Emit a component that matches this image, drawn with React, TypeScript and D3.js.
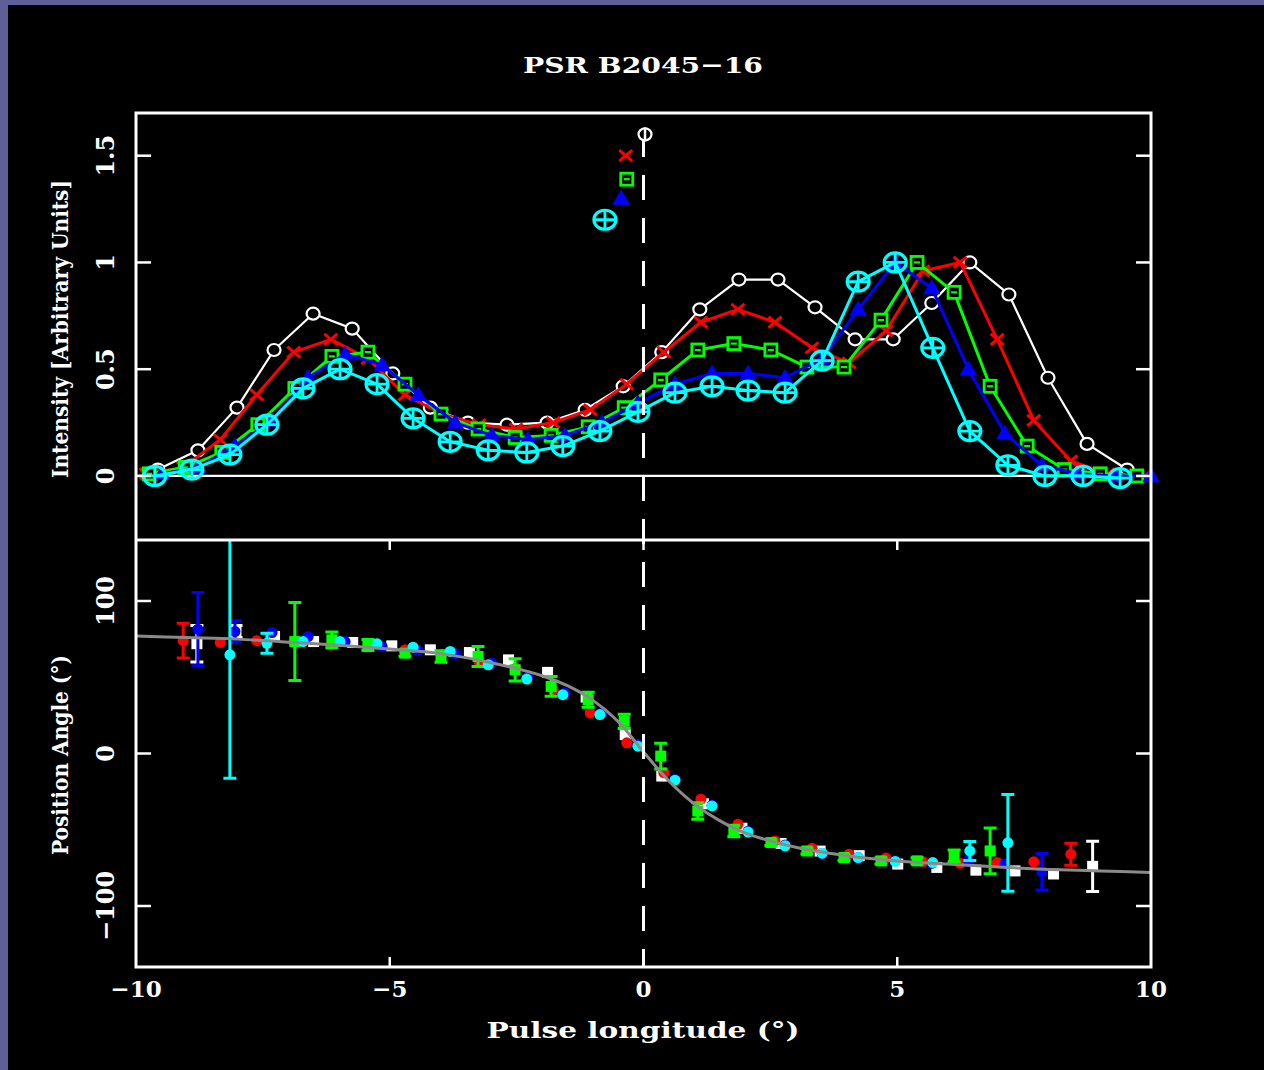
import React from "react";
import * as d3 from "d3";

const W = 1264;
const H = 1070;

// ---- Upper panel: normalised pulse profiles, one per frequency channel ----
const whiteLon = [-9.57, -8.78, -8.01, -7.28, -6.51, -5.74, -4.94, -4.2, -3.46, -2.69, -1.9, -1.15, -0.4, 0.36, 1.11, 1.88, 2.65, 3.38, 4.17, 4.92, 5.68, 6.43, 7.2, 7.97, 8.74, 9.53];
const whiteInt = [0.03, 0.12, 0.32, 0.59, 0.76, 0.69, 0.48, 0.32, 0.25, 0.24, 0.25, 0.31, 0.42, 0.58, 0.78, 0.92, 0.92, 0.79, 0.64, 0.64, 0.81, 1.0, 0.85, 0.46, 0.15, 0.03];

const redLon = [-9.8, -9.07, -8.34, -7.62, -6.89, -6.16, -5.43, -4.7, -3.97, -3.24, -2.51, -1.78, -1.05, -0.33, 0.4, 1.13, 1.86, 2.59, 3.32, 4.05, 4.78, 5.51, 6.24, 6.97, 7.69, 8.42, 9.15, 9.88];
const redInt = [0.01, 0.04, 0.17, 0.38, 0.58, 0.64, 0.55, 0.38, 0.29, 0.24, 0.22, 0.25, 0.31, 0.43, 0.58, 0.72, 0.78, 0.72, 0.6, 0.53, 0.68, 0.96, 1.0, 0.64, 0.26, 0.07, 0.01, 0.0];

const greenLon = [-9.74, -9.03, -8.31, -7.6, -6.87, -6.14, -5.43, -4.7, -3.99, -3.26, -2.53, -1.82, -1.09, -0.38, 0.34, 1.07, 1.78, 2.51, 3.22, 3.95, 4.68, 5.39, 6.12, 6.83, 7.56, 8.29, 9.0, 9.72];
const greenInt = [0.01, 0.04, 0.11, 0.24, 0.41, 0.56, 0.58, 0.43, 0.29, 0.22, 0.18, 0.19, 0.23, 0.32, 0.45, 0.59, 0.62, 0.59, 0.51, 0.51, 0.73, 1.0, 0.86, 0.42, 0.14, 0.03, 0.01, 0.0];

const blueLon = [-9.49, -8.78, -8.05, -7.32, -6.61, -5.88, -5.15, -4.44, -3.71, -2.99, -2.28, -1.55, -0.82, -0.11, 0.62, 1.35, 2.06, 2.79, 3.52, 4.23, 4.96, 5.68, 6.4, 7.12, 7.85, 8.56, 9.29, 10.0];
const blueInt = [0.01, 0.04, 0.14, 0.26, 0.46, 0.57, 0.52, 0.38, 0.25, 0.19, 0.17, 0.19, 0.25, 0.34, 0.43, 0.48, 0.48, 0.46, 0.55, 0.78, 1.0, 0.88, 0.5, 0.2, 0.05, 0.01, 0.0, 0.0];

const cyanLon = [-9.63, -8.9, -8.15, -7.42, -6.71, -5.98, -5.25, -4.54, -3.81, -3.06, -2.3, -1.59, -0.86, -0.11, 0.62, 1.35, 2.06, 2.79, 3.52, 4.23, 4.96, 5.7, 6.43, 7.18, 7.91, 8.66, 9.39];
const cyanInt = [0.0, 0.03, 0.1, 0.24, 0.41, 0.5, 0.43, 0.27, 0.16, 0.12, 0.11, 0.14, 0.21, 0.3, 0.39, 0.42, 0.4, 0.39, 0.54, 0.91, 1.0, 0.6, 0.21, 0.05, 0.0, 0.0, -0.01];

// Key symbols stacked beside the fiducial line
const keyLon = [0.03, -0.35, -0.33, -0.44, -0.76];
const keyInt = [1.6, 1.5, 1.39, 1.3, 1.2];

// ---- Lower panel: position angle (deg) with 1-sigma errors ----
const whitePaLon = [-8.8, -8.03, -7.27, -6.5, -5.73, -4.96, -4.2, -3.43, -2.66, -1.89, -1.13, -0.36, 0.36, 1.18, 1.94, 2.71, 3.48, 4.25, 5.01, 5.78, 6.55, 7.32, 8.08, 8.85];
const whitePa = [72, 80, 76.7, 73.4, 72.8, 70.6, 68, 66.2, 61.4, 53.2, 37, 12.4, -14.8, -33, -49, -59, -64, -67, -72.5, -74.7, -76.5, -77, -79, -74];
const whitePaErr = [12, 4, 0, 0, 0, 0, 0, 0, 0, 0, 0, 0, 0, 0, 0, 0, 0, 0, 0, 0, 0, 0, 0, 16.5];

const redPaLon = [-9.07, -8.34, -7.62, -6.89, -6.16, -5.43, -4.7, -3.97, -3.24, -2.51, -1.78, -1.05, -0.33, 0.4, 1.13, 1.86, 2.59, 3.32, 4.05, 4.78, 5.51, 6.24, 6.97, 7.69, 8.42];
const redPa = [74, 72.8, 74, 73, 71, 70, 68, 65, 60.3, 56, 41.8, 26.6, 7, -12.6, -30, -46.4, -57.3, -62.1, -66, -68.6, -71, -72, -71.5, -71, -66];
const redPaErr = [11.4, 0, 0, 0, 0, 0, 0, 0, 0, 0, 0, 0, 0, 0, 0, 0, 0, 0, 0, 0, 0, 0, 0, 0, 7.2];

const greenPaLon = [-6.87, -6.14, -5.43, -4.7, -3.99, -3.26, -2.53, -1.82, -1.09, -0.38, 0.34, 1.07, 1.78, 2.51, 3.22, 3.95, 4.68, 5.39, 6.12, 6.83];
const greenPa = [73.4, 74.5, 71.2, 65.8, 63.6, 63.6, 54.9, 44, 35.3, 21.1, -1.7, -37.7, -50.8, -58.4, -63.9, -68.2, -70.4, -70.4, -67.1, -63.9];
const greenPaErr = [25.6, 5.2, 3.6, 2, 3.8, 6.5, 7.3, 6.5, 4.9, 4.7, 8.4, 5.4, 3.8, 2, 2, 2, 2, 2, 3.9, 15];

const bluePaLon = [-8.78, -8.05, -7.32, -6.61, -5.88, -5.15, -4.44, -3.71, -2.99, -2.28, -1.55, -0.82, -0.11, 0.62, 1.35, 2.06, 2.79, 3.52, 4.23, 4.96, 5.68, 6.4, 7.12, 7.85];
const bluePa = [81.5, 80, 79.3, 76.7, 73.4, 70.1, 67.5, 65.4, 59.3, 50.1, 39.7, 26.6, 5.9, -17, -34, -51, -60, -65.5, -68.2, -70.4, -72, -70.5, -72.5, -77.5];
const bluePaErr = [24, 7, 0, 0, 0, 0, 0, 0, 0, 0, 0, 0, 0, 0, 0, 0, 0, 0, 0, 0, 0, 0, 0, 12];

const cyanPaLon = [-8.15, -7.42, -6.71, -5.98, -5.25, -4.54, -3.81, -3.06, -2.3, -1.59, -0.86, -0.11, 0.62, 1.35, 2.06, 2.79, 3.52, 4.23, 4.96, 5.7, 6.43, 7.18];
const cyanPa = [64.7, 72.3, 73.4, 73.4, 71.9, 69.7, 66.9, 58.2, 48.8, 38.6, 25.5, 4.8, -17.5, -34.4, -51.5, -60.5, -65.4, -68.2, -70.8, -71.5, -63.9, -58.6];
const cyanPaErr = [81, 6.5, 0, 0, 0, 0, 0, 0, 0, 0, 0, 0, 0, 0, 0, 0, 0, 0, 0, 0, 6.2, 31.7];

// Rotating-vector-model fit through the position angles
const fitLon = [-10, -9, -8, -7, -6, -5, -4, -3, -2, -1.5, -1, -0.5, 0, 0.5, 1, 1.5, 2, 3, 4, 5, 6, 7, 8, 9, 10];
const fitPa = [77, 76, 75, 73, 71, 68.5, 65.5, 59.5, 51, 44.5, 35, 21, 1, -18, -33, -44, -52, -61.5, -67, -70.5, -72.5, -74.5, -76, -77, -78];

const intensityTicks = [0, 0.5, 1, 1.5];
const intensityTickLabels = ["0", "0.5", "1", "1.5"];
const paTicks = [100, 0, -100];
const paTickLabels = ["100", "0", "\u2212100"];
const lonTicks = [-10, -5, 0, 5, 10];
const lonTickLabels = ["\u221210", "\u22125", "0", "5", "10"];

type MarkerKind = "circle" | "cross" | "square" | "triangle" | "circlePlus";
type PaKind = "square" | "dot";

interface Series {
  color: string;
  marker: MarkerKind;
  paMarker: PaKind;
  lineWidth: number;
  lon: number[];
  int: number[];
  paLon: number[];
  pa: number[];
  paErr: number[];
}

const series: Series[] = [
  { color: "#ffffff", marker: "circle", paMarker: "square", lineWidth: 2.2, lon: whiteLon, int: whiteInt, paLon: whitePaLon, pa: whitePa, paErr: whitePaErr },
  { color: "#ff0000", marker: "cross", paMarker: "dot", lineWidth: 3, lon: redLon, int: redInt, paLon: redPaLon, pa: redPa, paErr: redPaErr },
  { color: "#00ff00", marker: "square", paMarker: "square", lineWidth: 3, lon: greenLon, int: greenInt, paLon: greenPaLon, pa: greenPa, paErr: greenPaErr },
  { color: "#0000ff", marker: "triangle", paMarker: "dot", lineWidth: 3, lon: blueLon, int: blueInt, paLon: bluePaLon, pa: bluePa, paErr: bluePaErr },
  { color: "#00ffff", marker: "circlePlus", paMarker: "dot", lineWidth: 3, lon: cyanLon, int: cyanInt, paLon: cyanPaLon, pa: cyanPa, paErr: cyanPaErr },
];

// Plot geometry
const left = 136;
const right = 1151;
const top = 113;
const split = 540;
const bottom = 967;

const x = d3.scaleLinear().domain([-10, 10]).range([left, right]);
const yI = d3.scaleLinear().domain([-0.3, 1.7]).range([split, top]);
const yPA = d3.scaleLinear().domain([-140, 140]).range([bottom, split]);

const FONT = "'DejaVu Serif', 'Liberation Serif', serif";

function Marker({ kind, cx, cy, color }: { kind: MarkerKind; cx: number; cy: number; color: string }) {
  const t = `translate(${cx},${cy})`;
  switch (kind) {
    case "circle":
      return (
        <g transform={t}>
          <ellipse rx={6.5} ry={6} fill="#000" stroke={color} strokeWidth={2.2} />
        </g>
      );
    case "cross":
      return (
        <g transform={t}>
          <path d="M-6.5,-5.5L6.5,5.5M-6.5,5.5L6.5,-5.5" stroke={color} strokeWidth={3} fill="none" />
        </g>
      );
    case "square":
      return (
        <g transform={t}>
          <rect x={-6} y={-6} width={12} height={12} fill="#000" stroke={color} strokeWidth={2.8} />
          <path d="M-3,0L3,0" stroke={color} strokeWidth={2.2} />
        </g>
      );
    case "triangle":
      return (
        <g transform={t}>
          <path d="M0,-7.5L7.5,5.5L-7.5,5.5Z" fill={color} stroke={color} strokeWidth={1.5} strokeLinejoin="round" />
        </g>
      );
    case "circlePlus":
      return (
        <g transform={t}>
          <ellipse rx={11} ry={9.5} fill="none" stroke={color} strokeWidth={3.2} />
          <path d="M-11,0L11,0M0,-9.5L0,9.5" stroke={color} strokeWidth={2.8} />
        </g>
      );
  }
}

function PaPoint({ kind, lon, pa, err, color }: { kind: PaKind; lon: number; pa: number; err: number; color: string }) {
  const cx = x(lon);
  const cy = yPA(pa);
  const yHi = yPA(pa + err);
  const yLo = yPA(pa - err);
  return (
    <g>
      {err > 0 && (
        <path
          d={`M${cx},${yHi}L${cx},${yLo}M${cx - 6.5},${yHi}L${cx + 6.5},${yHi}M${cx - 6.5},${yLo}L${cx + 6.5},${yLo}`}
          stroke={color}
          strokeWidth={3}
          fill="none"
        />
      )}
      {kind === "square" ? (
        <rect x={cx - 5.5} y={cy - 5.5} width={11} height={11} fill={color} />
      ) : (
        <circle cx={cx} cy={cy} r={5.5} fill={color} />
      )}
    </g>
  );
}

export default function App() {
  const profileLine = d3
    .line<[number, number]>()
    .x((d) => x(d[0]))
    .y((d) => yI(d[1]));
  const fitLine = d3
    .line<[number, number]>()
    .x((d) => x(d[0]))
    .y((d) => yPA(d[1]))
    .curve(d3.curveCatmullRom.alpha(0.5));

  const fitPts: [number, number][] = fitLon.map((l, i) => [l, fitPa[i]]);

  const labelStyle = { fontFamily: FONT, fontWeight: 700, fill: "#fff" } as const;

  return (
    <svg
      width={W}
      height={H}
      viewBox={`0 0 ${W} ${H}`}
      style={{ position: "absolute", left: 0, top: 0, display: "block" }}
    >
      <defs>
        <clipPath id="lowerClip">
          <rect x={left} y={split} width={right - left} height={bottom - split} />
        </clipPath>
      </defs>
      <rect x={0} y={0} width={W} height={H} fill="#5e5e98" />
      <rect x={8} y={5} width={W - 8} height={H - 5} fill="#000" />

      {/* Title */}
      <text x={643} y={73} textAnchor="middle" fontSize={23} textLength={240} lengthAdjust="spacingAndGlyphs" {...labelStyle}>
        PSR B2045{"\u2212"}16
      </text>

      {/* Upper panel: zero level */}
      <line x1={left} x2={right} y1={yI(0)} y2={yI(0)} stroke="#fff" strokeWidth={2.2} />

      {/* Profiles */}
      {series.map((s, si) => {
        const pts: [number, number][] = s.lon.map((l, i) => [l, s.int[i]]);
        return (
          <g key={`prof-${si}`}>
            <path d={profileLine(pts) ?? ""} fill="none" stroke={s.color} strokeWidth={s.lineWidth} strokeLinejoin="round" />
            {pts.map((p, i) => (
              <Marker key={i} kind={s.marker} cx={x(p[0])} cy={yI(p[1])} color={s.color} />
            ))}
          </g>
        );
      })}

      {/* Lower panel: position angles */}
      <g clipPath="url(#lowerClip)">
        {series.map((s, si) => (
          <g key={`pa-${si}`}>
            {s.paLon.map((l, i) => (
              <PaPoint key={i} kind={s.paMarker} lon={l} pa={s.pa[i]} err={s.paErr[i]} color={s.color} />
            ))}
          </g>
        ))}
        <path d={fitLine(fitPts) ?? ""} fill="none" stroke="#8a8a8a" strokeWidth={3} />
      </g>

      {/* Fiducial line at zero longitude */}
      <line x1={x(0)} x2={x(0)} y1={132} y2={bottom} stroke="#fff" strokeWidth={3} strokeDasharray="25 18" />

      {/* Key symbols */}
      {series.map((s, si) => (
        <Marker key={`key-${si}`} kind={s.marker} cx={x(keyLon[si])} cy={yI(keyInt[si])} color={s.color} />
      ))}
      <line x1={x(keyLon[0])} x2={x(keyLon[0])} y1={yI(keyInt[0]) - 7} y2={yI(keyInt[0]) + 7} stroke="#fff" strokeWidth={2.5} />

      {/* Frames */}
      <rect x={left} y={top} width={right - left} height={bottom - top} fill="none" stroke="#fff" strokeWidth={3} />
      <line x1={left} x2={right} y1={split} y2={split} stroke="#fff" strokeWidth={3} />

      {/* Upper y ticks */}
      {intensityTicks.map((t, i) => (
        <g key={`it-${i}`}>
          <line x1={left} x2={left + 15} y1={yI(t)} y2={yI(t)} stroke="#fff" strokeWidth={2.5} />
          <line x1={right - 15} x2={right} y1={yI(t)} y2={yI(t)} stroke="#fff" strokeWidth={2.5} />
          <text transform={`translate(114,${yI(t)}) rotate(-90)`} textAnchor="middle" fontSize={24} {...labelStyle}>
            {intensityTickLabels[i]}
          </text>
        </g>
      ))}

      {/* Lower y ticks */}
      {paTicks.map((t, i) => (
        <g key={`pt-${i}`}>
          <line x1={left} x2={left + 15} y1={yPA(t)} y2={yPA(t)} stroke="#fff" strokeWidth={2.5} />
          <line x1={right - 15} x2={right} y1={yPA(t)} y2={yPA(t)} stroke="#fff" strokeWidth={2.5} />
          <text transform={`translate(114,${yPA(t)}) rotate(-90)`} textAnchor="middle" fontSize={24} {...labelStyle}>
            {paTickLabels[i]}
          </text>
        </g>
      ))}

      {/* x ticks on the lower panel */}
      {lonTicks.map((t, i) => (
        <g key={`xt-${i}`}>
          {t > -10 && t < 10 && (
            <>
              <line x1={x(t)} x2={x(t)} y1={bottom} y2={bottom - 10} stroke="#fff" strokeWidth={2.5} />
              <line x1={x(t)} x2={x(t)} y1={split} y2={split + 10} stroke="#fff" strokeWidth={2.5} />
            </>
          )}
          <text x={x(t)} y={997} textAnchor="middle" fontSize={23} {...labelStyle}>
            {lonTickLabels[i]}
          </text>
        </g>
      ))}

      {/* Axis titles */}
      <text x={643} y={1038} textAnchor="middle" fontSize={23} textLength={313} lengthAdjust="spacingAndGlyphs" {...labelStyle}>
        Pulse longitude (°)
      </text>
      <text
        transform={`translate(68,${(180 + 478) / 2}) rotate(-90)`}
        textAnchor="middle"
        fontSize={23}
        textLength={298}
        lengthAdjust="spacingAndGlyphs"
        {...labelStyle}
      >
        Intensity [Arbitrary Units]
      </text>
      <text
        transform="translate(68,755) rotate(-90)"
        textAnchor="middle"
        fontSize={23}
        textLength={200}
        lengthAdjust="spacingAndGlyphs"
        {...labelStyle}
      >
        Position Angle (°)
      </text>
    </svg>
  );
}
